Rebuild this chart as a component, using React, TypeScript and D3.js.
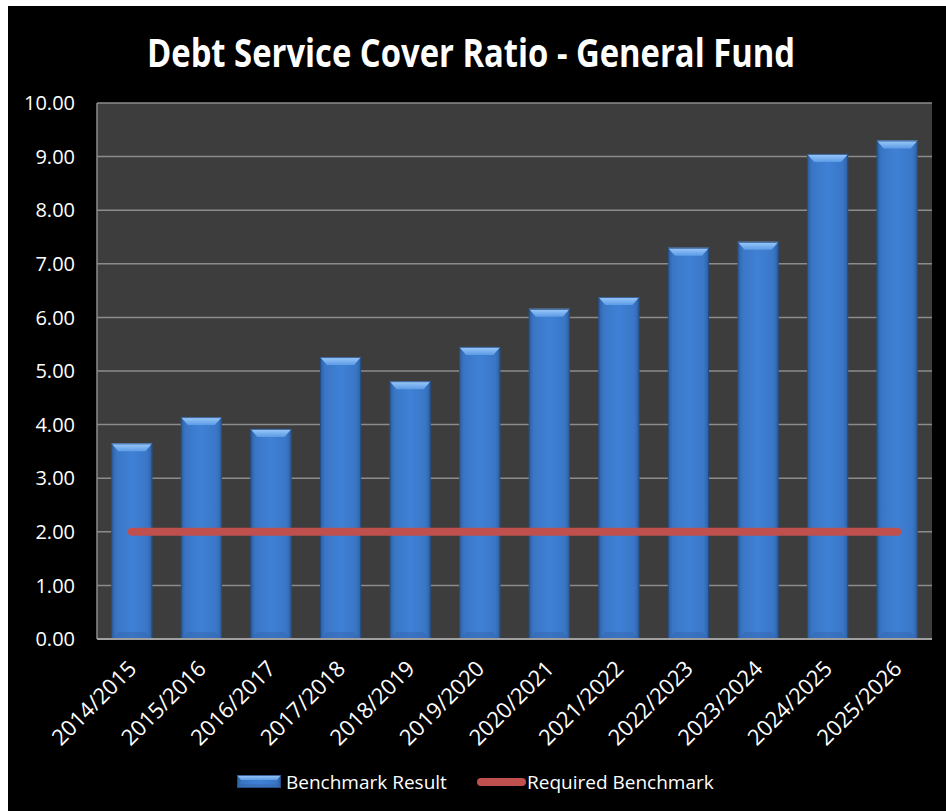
import React from "react";
import * as d3 from "d3";

const categories = [
  "2014/2015", "2015/2016", "2016/2017", "2017/2018", "2018/2019", "2019/2020",
  "2020/2021", "2021/2022", "2022/2023", "2023/2024", "2024/2025", "2025/2026",
];
const benchmarkResult = [3.65, 4.14, 3.92, 5.26, 4.81, 5.45, 6.16, 6.38, 7.3, 7.41, 9.05, 9.3];
const requiredBenchmark = [2, 2, 2, 2, 2, 2, 2, 2, 2, 2, 2, 2];
const yTicks = [0, 1, 2, 3, 4, 5, 6, 7, 8, 9, 10];
const title = "Debt Service Cover Ratio - General Fund";
const legendLabels = ["Benchmark Result", "Required Benchmark"];

const W = 946;
const H = 811;
const FONT = "'Open Sans', 'DejaVu Sans', sans-serif";

export default function App() {
  const plot = { left: 97, right: 932, top: 103, bottom: 639 };
  const x = d3
    .scaleBand<string>()
    .domain(categories)
    .range([plot.left, plot.right])
    .paddingInner(0.41)
    .paddingOuter(0.205);
  const y = d3.scaleLinear().domain([0, 10]).range([plot.bottom, plot.top]);
  const bw = x.bandwidth();
  const cx = (c: string) => (x(c) as number) + bw / 2;

  const line = d3
    .line<number>()
    .x((_, i) => cx(categories[i]))
    .y((d) => y(d));

  const bar = (bx: number, top: number, bottom: number, w: number, key: string, bevel = 7) => {
    const bv = Math.min(bevel, (bottom - top) / 2);
    return (
      <g key={key}>
        <rect x={bx} y={top} width={w} height={bottom - top} fill="url(#barBody)" />
        <polygon
          points={`${bx},${top} ${bx + w},${top} ${bx + w - bv},${top + bv + 1} ${bx + bv},${top + bv + 1}`}
          fill="url(#barTop)"
        />
        <polygon
          points={`${bx},${bottom} ${bx + w},${bottom} ${bx + w - bv},${bottom - bv} ${bx + bv},${bottom - bv}`}
          fill="#3568B0"
          opacity={0.55}
        />
        <rect
          x={bx + 0.5}
          y={top + 0.5}
          width={w - 1}
          height={bottom - top - 1}
          fill="none"
          stroke="#23497E"
          strokeWidth={1}
          opacity={0.8}
        />
      </g>
    );
  };

  return (
    <svg
      width={W}
      height={H}
      style={{ position: "fixed", left: 0, top: 0, display: "block" }}
      fontFamily={FONT}
    >
      <defs>
        <linearGradient id="barBody" x1="0" y1="0" x2="1" y2="0">
          <stop offset="0" stopColor="#2C5E9E" />
          <stop offset="0.12" stopColor="#3A76C6" />
          <stop offset="0.5" stopColor="#3F81D6" />
          <stop offset="0.88" stopColor="#3A76C6" />
          <stop offset="1" stopColor="#2C5E9E" />
        </linearGradient>
        <linearGradient id="barTop" x1="0" y1="0" x2="0" y2="1">
          <stop offset="0" stopColor="#9DCBFA" />
          <stop offset="1" stopColor="#5C9BE6" />
        </linearGradient>
      </defs>

      <rect x={0} y={0} width={W} height={H} fill="#ffffff" />
      <rect x={8} y={6} width={W - 8} height={H - 6} fill="#000000" />

      <text
        x={471}
        y={67}
        textAnchor="middle"
        fill="#ffffff"
        fontSize={39}
        fontWeight="bold"
        fontFamily="'Liberation Sans Narrow', 'Open Sans', sans-serif"
        textLength={648}
        lengthAdjust="spacingAndGlyphs"
      >
        {title}
      </text>

      {/* plot area */}
      <rect
        x={plot.left}
        y={plot.top}
        width={plot.right - plot.left}
        height={plot.bottom - plot.top}
        fill="#3D3D3D"
      />
      {yTicks.map((t) => (
        <line
          key={`g${t}`}
          x1={plot.left}
          x2={plot.right}
          y1={y(t)}
          y2={y(t)}
          stroke="#8C8C8C"
          strokeWidth={1.5}
        />
      ))}
      <line x1={plot.left} x2={plot.left} y1={plot.top} y2={plot.bottom} stroke="#8C8C8C" strokeWidth={1.5} />

      {yTicks.map((t) => (
        <text
          key={`t${t}`}
          x={75}
          y={y(t)}
          dy="0.36em"
          textAnchor="end"
          fill="#ffffff"
          fontSize={20}
        >
          {t.toFixed(2)}
        </text>
      ))}

      {benchmarkResult.map((v, i) => bar(x(categories[i]) as number, y(v), y(0), bw, `b${i}`))}

      <line x1={plot.left} x2={plot.right} y1={plot.bottom} y2={plot.bottom} stroke="#A0A0A0" strokeWidth={2} />

      <path
        d={line(requiredBenchmark) || ""}
        fill="none"
        stroke="#C0504D"
        strokeWidth={8}
        strokeLinecap="round"
      />

      {categories.map((c) => (
        <text
          key={`x${c}`}
          transform={`translate(${cx(c) + 6},${plot.bottom + 31}) rotate(-45)`}
          textAnchor="end"
          fill="#ffffff"
          fontSize={22}
        >
          {c}
        </text>
      ))}

      {/* legend */}
      {bar(237, 775, 788, 44, "legbar", 4)}
      <text x={286} y={789} fill="#ffffff" fontSize={19}>
        {legendLabels[0]}
      </text>
      <line x1={481} x2={522} y1={782} y2={782} stroke="#C0504D" strokeWidth={8} strokeLinecap="round" />
      <text x={527} y={789} fill="#ffffff" fontSize={19}>
        {legendLabels[1]}
      </text>
    </svg>
  );
}
